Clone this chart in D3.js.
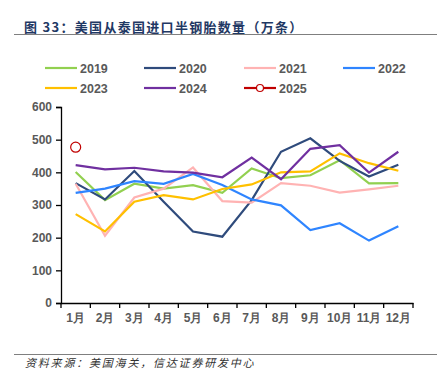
<!DOCTYPE html>
<html>
<head>
<meta charset="utf-8">
<script src="https://cdn.jsdelivr.net/npm/d3@7"></script>
<style>
  body { margin: 0; background: #fff; }
  svg { font-family: "Liberation Sans", Arial, "Noto Sans CJK SC", sans-serif; }
</style>
</head>
<body>
<div id="chart"></div>
<script>
const months = ["1月", "2月", "3月", "4月", "5月", "6月", "7月", "8月", "9月", "10月", "11月", "12月"];
const years = ["2019", "2020", "2021", "2022", "2023", "2024", "2025"];
const colors = ["#92d050", "#2f4b7c", "#ffb3b3", "#2f85ff", "#ffc000", "#7030a0", "#c00000"];
const v2019 = [401, 315, 365, 350, 361, 337, 412, 382, 391, 437, 366, 367];
const v2020 = [367, 317, 404, 310, 219, 203, 315, 463, 504, 435, 387, 423];
const v2021 = [365, 206, 323, 350, 415, 312, 307, 367, 359, 338, 348, 359];
const v2022 = [337, 350, 373, 365, 395, 361, 317, 299, 223, 244, 191, 235];
const v2023 = [272, 219, 310, 330, 317, 349, 363, 400, 403, 458, 428, 405];
const v2024 = [422, 409, 414, 403, 399, 385, 445, 379, 472, 483, 399, 463];
const v2025 = [477];
const yTicks = [0, 100, 200, 300, 400, 500, 600];

const series = [v2019, v2020, v2021, v2022, v2023, v2024, v2025];

const width = 437, height = 379;
const margins = { top: 107, bottom: 76, left: 61, right: 24 };

const svg = d3.select("#chart").append("svg")
  .attr("width", width)
  .attr("height", height);

// title + rules
svg.append("text")
  .attr("x", 24).attr("y", 31.5)
  .attr("font-size", 13).attr("font-weight", "bold")
  .attr("letter-spacing", 1.3)
  .attr("fill", "#1f3864")
  .attr("font-family", "'Noto Sans CJK SC', sans-serif")
  .text("图 33：美国从泰国进口半钢胎数量（万条）");
svg.append("line")
  .attr("x1", 14).attr("x2", width).attr("y1", 34.5).attr("y2", 34.5)
  .attr("stroke", "#7f7f7f").attr("stroke-width", 1);
svg.append("line")
  .attr("x1", 14).attr("x2", width).attr("y1", 354.5).attr("y2", 354.5)
  .attr("stroke", "#7f7f7f").attr("stroke-width", 1);
svg.append("text")
  .attr("x", 25).attr("y", 367)
  .attr("font-size", 11).attr("font-style", "italic")
  .attr("letter-spacing", 1.8)
  .attr("fill", "#333")
  .attr("font-family", "'Noto Sans CJK SC', sans-serif")
  .text("资料来源：美国海关，信达证券研发中心");

const x = d3.scaleBand().domain(months)
  .range([margins.left, width - margins.right]);
const y = d3.scaleLinear().domain([0, 600])
  .range([height - margins.bottom, margins.top]);

// y axis
const yAxis = svg.append("g")
  .attr("transform", `translate(${margins.left},0)`)
  .call(d3.axisLeft(y).tickValues(yTicks).tickSize(5).tickPadding(4));
yAxis.select(".domain").attr("stroke", "#000").attr("stroke-width", 1.3);
yAxis.selectAll(".tick line").attr("stroke", "#000").attr("stroke-width", 1.3);
yAxis.selectAll("text").attr("font-size", 12).attr("font-weight", "bold").attr("fill", "#595959");

// x axis
const xAxis = svg.append("g")
  .attr("transform", `translate(0,${y(0)})`)
  .call(d3.axisBottom(x).tickSize(0).tickPadding(10));
xAxis.select(".domain").attr("stroke", "#000").attr("stroke-width", 1.3);
xAxis.selectAll("text").attr("font-size", 12).attr("font-weight", "bold").attr("fill", "#595959");
// tick marks at band boundaries
const bounds = months.map(m => x(m)).concat([x.range()[1]]);
xAxis.selectAll("line.bnd").data(bounds).join("line")
  .attr("class", "bnd")
  .attr("x1", d => d).attr("x2", d => d)
  .attr("y1", 0).attr("y2", 5)
  .attr("stroke", "#000").attr("stroke-width", 1.3);

const line = d3.line()
  .x((d, i) => x(months[i]) + x.bandwidth() / 2)
  .y(d => y(d));

series.forEach((vals, k) => {
  if (vals.length > 1) {
    svg.append("path")
      .datum(vals)
      .attr("d", line)
      .attr("fill", "none")
      .attr("stroke", colors[k])
      .attr("stroke-width", 2.2);
  } else {
    svg.append("circle")
      .attr("cx", x(months[0]) + x.bandwidth() / 2)
      .attr("cy", y(vals[0]))
      .attr("r", 5)
      .attr("fill", "none")
      .attr("stroke", colors[k])
      .attr("stroke-width", 1.2);
  }
});

// legend
const legCols = [45, 144, 244, 343];
const legRows = [68, 88];
const legend = svg.append("g");
years.forEach((yr, k) => {
  const lx = legCols[k % 4], ly = legRows[Math.floor(k / 4)];
  legend.append("line")
    .attr("x1", lx).attr("x2", lx + 32).attr("y1", ly).attr("y2", ly)
    .attr("stroke", colors[k]).attr("stroke-width", 2.2);
  if (yr === "2025") {
    legend.append("circle")
      .attr("cx", lx + 16).attr("cy", ly).attr("r", 3.5)
      .attr("fill", "#fff").attr("stroke", colors[k]).attr("stroke-width", 1.2);
  }
  legend.append("text")
    .attr("x", lx + 35).attr("y", ly + 4.5)
    .attr("font-size", 12.5).attr("font-weight", "bold").attr("fill", "#595959")
    .text(yr);
});
</script>
</body>
</html>
